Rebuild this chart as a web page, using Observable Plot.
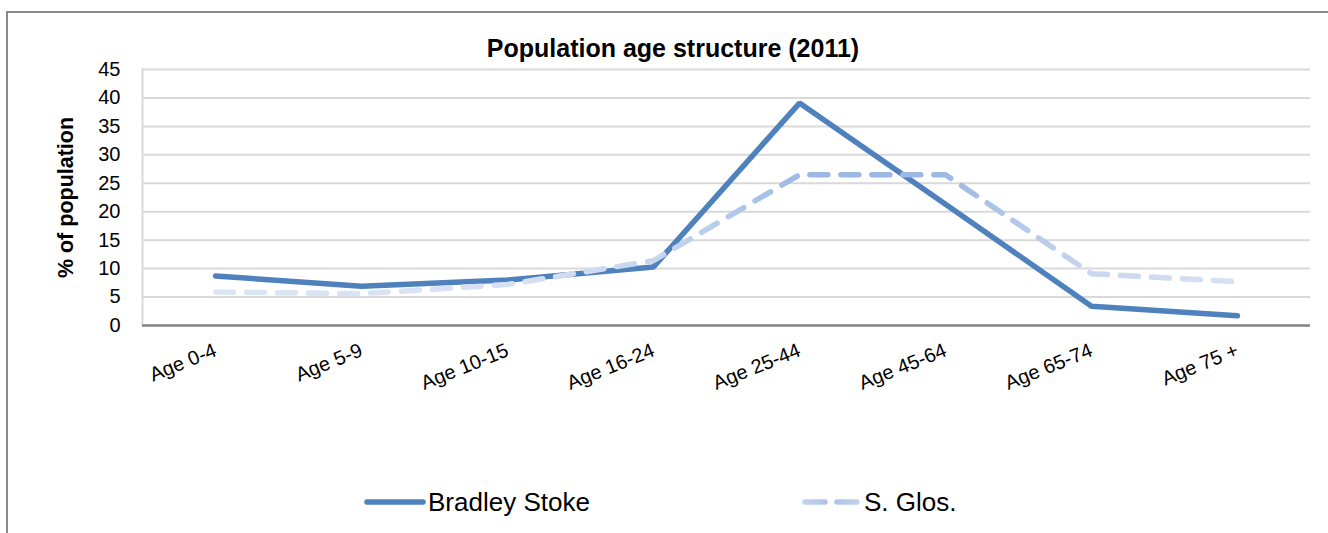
<!DOCTYPE html>
<html><head><meta charset="utf-8">
<script src="https://cdn.jsdelivr.net/npm/d3@7"></script>
<script src="https://cdn.jsdelivr.net/npm/@observablehq/plot@0.6"></script>
<style>
body{margin:0;background:#fff;}
#wrap{position:relative;width:1328px;height:533px;overflow:hidden;font-family:"Liberation Sans",Arial,sans-serif;color:#000;}
#frame{position:absolute;left:6px;top:11px;width:1400px;height:600px;border-left:2px solid #8a8a8a;border-top:2px solid #8a8a8a;}
#title{position:absolute;left:0;width:1346px;top:34px;text-align:center;font-weight:bold;font-size:25px;line-height:29px;}
#chart{position:absolute;left:0;top:0;}
.leg{position:absolute;top:487px;height:30px;display:flex;align-items:center;font-size:26px;}
.leg svg{display:block;margin-right:2px;}
</style>
</head><body>
<div id="wrap">
  <div id="frame"></div>
  <div id="chart"></div>
  <div id="title">Population age structure (2011)</div>
  <div class="leg" id="leg1" style="left:364px"></div>
  <div class="leg" id="leg2" style="left:802px"></div>
</div>
<script>
const ageGroups = ["Age 0-4","Age 5-9","Age 10-15","Age 16-24","Age 25-44","Age 45-64","Age 65-74","Age 75 +"];
const bradleyStoke = [8.7, 6.9, 8.0, 10.3, 39.1, 21.3, 3.4, 1.7];
const sGlos = [5.9, 5.6, 7.2, 11.4, 26.5, 26.5, 9.1, 7.7];
const yTicks = [0, 5, 10, 15, 20, 25, 30, 35, 40, 45];
const seriesNames = ["Bradley Stoke", "S. Glos."];

const rows = [];
ageGroups.forEach((g, i) => {
  rows.push({age: g, value: bradleyStoke[i], series: seriesNames[0]});
  rows.push({age: g, value: sGlos[i], series: seriesNames[1]});
});
const bs = rows.filter(d => d.series === seriesNames[0]);
const sg = rows.filter(d => d.series === seriesNames[1]);

const chart = Plot.plot({
  width: 1328,
  height: 420,
  marginLeft: 142,
  marginRight: 18,
  marginTop: 69,
  marginBottom: 95,
  style: {fontFamily: "'Liberation Sans', Arial, sans-serif", fontSize: "20px", color: "#000", background: "transparent"},
  x: {type: "point", domain: ageGroups, padding: 0.5},
  y: {domain: [0, 45]},
  marks: [
    Plot.gridY(yTicks, {stroke: "#d9d9d9", strokeOpacity: 1, strokeWidth: 2}),
    Plot.frame({anchor: "left", stroke: "#d9d9d9", strokeWidth: 2}),
    Plot.ruleY([0], {stroke: "#868686", strokeWidth: 2.5}),
    Plot.axisY(yTicks, {tickSize: 0, tickPadding: 22, fontSize: 20, label: null}),
    Plot.axisX({tickSize: 0, tickPadding: 24, tickRotate: -22, fontSize: 20, label: null}),
    Plot.text(["% of population"], {frameAnchor: "left", dx: -76, rotate: -90, textAnchor: "middle", fontWeight: "bold", fontSize: 21.5}),
    Plot.line(bs, {x: "age", y: "value", stroke: "#4f81bd", strokeWidth: 5.5, strokeLinejoin: "miter", strokeLinecap: "round"}),
    Plot.line(sg, {x: "age", y: "value", stroke: "url(#sglosGrad)", strokeWidth: 5.5, strokeDasharray: "18,13", strokeLinecap: "round", strokeLinejoin: "round"})
  ]
});

const ns = "http://www.w3.org/2000/svg";
const gradDefs = `<linearGradient id="sglosGrad" x1="0" x2="1" y1="0" y2="0">
  <stop offset="0" stop-color="#dce5f4"/>
  <stop offset="0.3" stop-color="#d6e0f3"/>
  <stop offset="0.45" stop-color="#c3d3ee"/>
  <stop offset="0.58" stop-color="#9db8e4"/>
  <stop offset="0.71" stop-color="#9db8e4"/>
  <stop offset="0.86" stop-color="#c9d7ef"/>
  <stop offset="1" stop-color="#d7e1f3"/>
</linearGradient>`;
const defs = document.createElementNS(ns, "defs");
defs.innerHTML = gradDefs;
chart.insertBefore(defs, chart.firstChild);
document.getElementById("chart").appendChild(chart);

document.getElementById("leg1").innerHTML =
  `<svg width="62" height="12"><line x1="3" y1="6" x2="59" y2="6" stroke="#4f81bd" stroke-width="5.5" stroke-linecap="round"/></svg><span>${seriesNames[0]}</span>`;
document.getElementById("leg2").innerHTML =
  `<svg width="60" height="12"><line x1="3" y1="6" x2="58" y2="6" stroke="url(#legGrad2)" stroke-width="5.5" stroke-dasharray="20,12" stroke-linecap="round"/><defs><linearGradient id="legGrad2" gradientUnits="userSpaceOnUse" x1="0" x2="60" y1="0" y2="0"><stop offset="0" stop-color="#c5d4ee"/><stop offset="0.5" stop-color="#a9c0e7"/><stop offset="1" stop-color="#c5d4ee"/></linearGradient></defs></svg><span>${seriesNames[1]}</span>`;
</script>
</body></html>
